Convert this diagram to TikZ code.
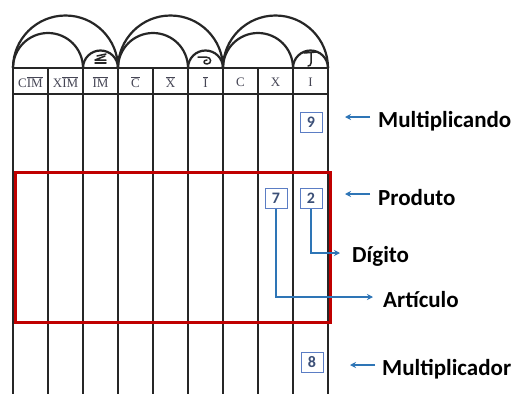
\documentclass[tikz,border=0pt]{standalone}
\usepackage{fontspec}
\setmainfont{Liberation Serif}
\newfontfamily\labfont{Carlito}
\usetikzlibrary{arrows.meta}
\definecolor{rd}{RGB}{192,0,0}
\definecolor{bl}{RGB}{46,117,182}
\definecolor{bx}{RGB}{91,125,196}
\definecolor{dg}{RGB}{60,80,120}
\definecolor{hd}{RGB}{70,70,85}
\newcommand\ob[1]{$\overline{\mbox{#1}}$}
\begin{document}
\begin{tikzpicture}[x=1pt,y=-1pt,
  grid/.style={line width=2.2pt, black!85},
  sym/.style={line width=1.5pt, black!85, line cap=round, line join=round},
  numbox/.style={draw=bx, line width=1pt, minimum width=22pt, minimum height=20pt, inner sep=0pt, text=dg, font=\labfont\bfseries\fontsize{16}{16}\selectfont},
  callout/.style={font=\labfont\bfseries\fontsize{23}{23}\selectfont, anchor=base west, inner sep=0pt},
  hdr/.style={font=\fontsize{13}{13}\selectfont, text=hd, inner sep=0pt},
  conn/.style={draw=bl, line width=1.5pt, -{Stealth[length=6pt,width=6pt]}}]
\useasboundingbox (0,0) rectangle (515,394);
\fill[white] (0,0) rectangle (515,394);
% columns
\foreach \i in {0,...,9} \draw[grid] ({13+35*\i},68) -- ({13+35*\i},394);
\draw[grid] (13,68) -- (328,68) (13,94) -- (328,94);
% arches
\foreach \g in {0,1,2} {
  \pgfmathsetmacro\L{13+105*\g}
  \draw[grid] (\L,68) arc[start angle=180, delta angle=180, radius=52.5];
  \draw[grid] (\L,68) arc[start angle=180, delta angle=180, radius=35];
  \draw[grid] ({\L+70},68) arc[start angle=180, delta angle=180, radius=17.5];
}
% apices
\draw[sym] (97,56) .. controls (100,54) and (103,56) .. (106,54);
\draw[sym] (105,56) -- (95,60) -- (106,60);
\draw[sym] (95,63) -- (106,63);
\draw[sym] (198,57) -- (206,57) .. controls (212,57) and (212,64) .. (207,64) .. controls (203,64) and (203,60) .. (207,60);
\draw[sym] (304,53) -- (317,52);
\draw[sym] (311,53) -- (311,63) .. controls (311,65) and (310,66) .. (308,66);
% header labels
\node[hdr] (h1) at (30.5,82) {C\ob{IM}};
\node[hdr] (h2) at (65.5,82) {X\ob{IM}};
\node[hdr] (h3) at (100.5,82) {\ob{IM}};
\node[hdr] (h4) at (135.5,82) {\ob{C}};
\node[hdr] (h5) at (170.5,82) {\ob{X}};
\node[hdr] (h6) at (205.5,82) {\ob{I}};
\node[hdr] (h7) at (240.5,82) {C};
\node[hdr] (h8) at (275.5,82) {X};
\node[hdr] (h9) at (310.5,82) {I};
% product frame
\draw[rd, line width=3pt] (15,172) rectangle (330,322);
% digits
\node[numbox] (n9) at (311,122) {9};
\node[numbox] (n2) at (311,198) {2};
\node[numbox] (n7) at (276,198) {7};
\node[numbox] (n8) at (312,362) {8};
% labels
\node[callout] (mc) at (378,127) {Multiplicando};
\node[callout] (pr) at (378,205) {Produto};
\node[callout] (dgt) at (352,262) {Dígito};
\node[callout] (art) at (383,307) {Artículo};
\node[callout] (mr) at (382,375) {Multiplicador};
% connectors
\coordinate (a1) at (345,117);
\coordinate (a2) at (345,194);
\coordinate (a3) at (350,365);
\coordinate (d1) at (340,253);
\coordinate (r1) at (373,297);
\draw[conn] ([shift={(-8,-10)}]mc.base west) -- (a1);
\draw[conn] ([shift={(-8,-11)}]pr.base west) -- (a2);
\draw[conn] ([shift={(-7,-10)}]mr.base west) -- (a3);
\draw[conn] (n2.south) |- (d1);
\draw[conn] (n7.south) |- (r1);
\end{tikzpicture}
\end{document}
